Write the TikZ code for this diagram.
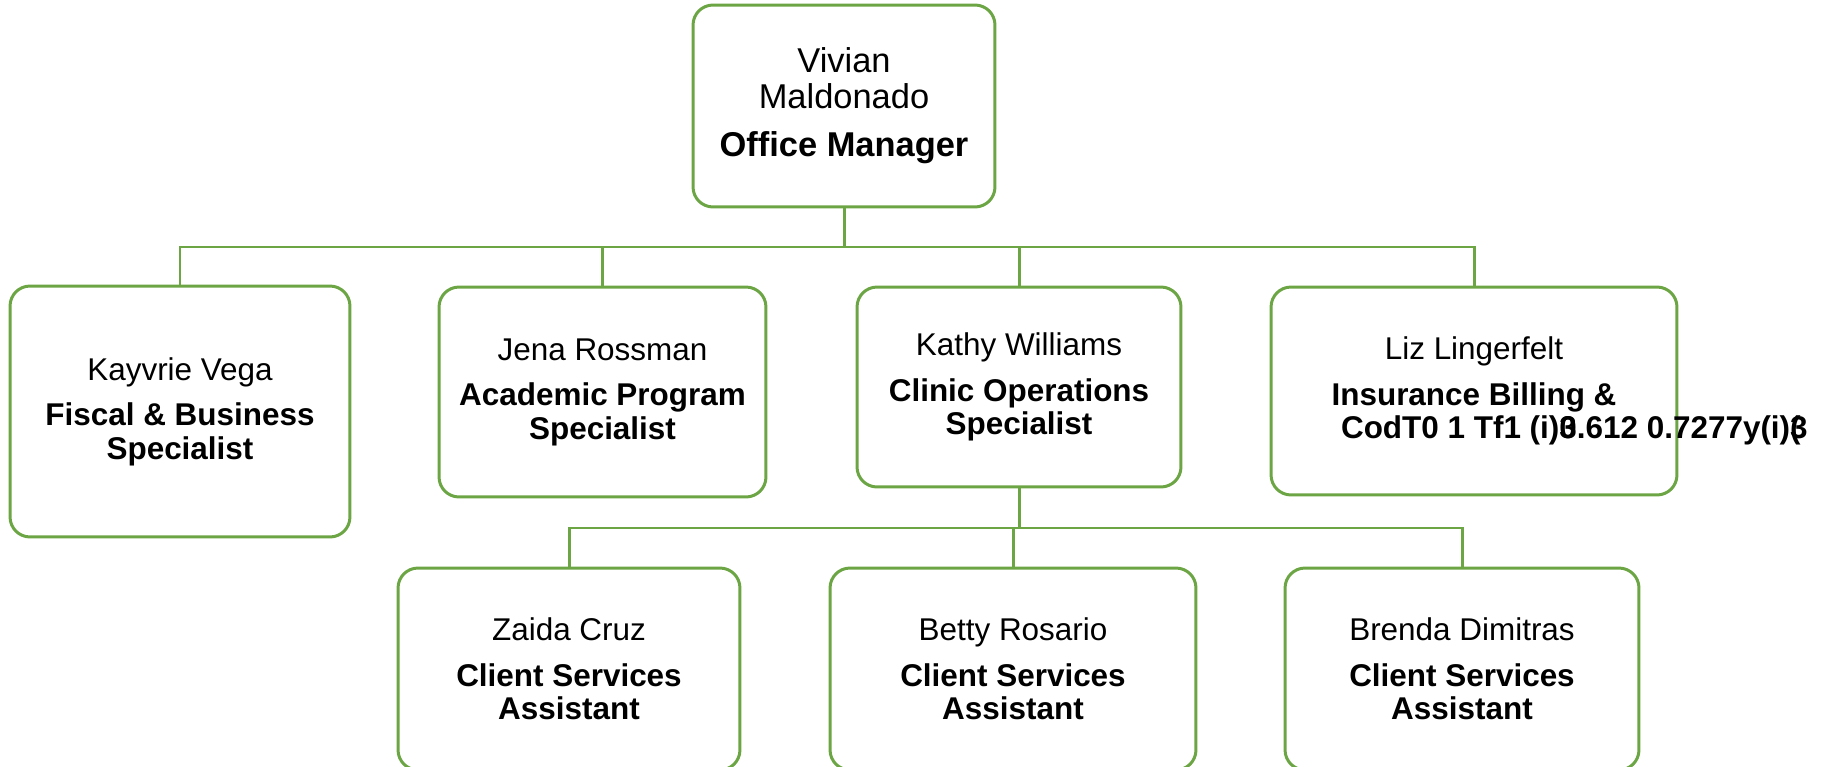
\documentclass[tikz,border=0pt]{standalone}
\usepackage{fontspec}
\setmainfont{Liberation Sans}
\usepackage{tikz}
\definecolor{boxgreen}{RGB}{108,165,68}
\tikzset{
  member/.style={draw=boxgreen, line width=1.7pt, rounded corners=0.4cm, fill=white,
    inner sep=0pt, align=center, font=\fontsize{17.9}{19}\selectfont},
  link/.style={draw=boxgreen, line width=1.7pt}
}

\begin{document}
\begin{tikzpicture}[x=0.02cm, y=-0.02cm]
    \useasboundingbox (0,0) rectangle (1822,767);
    \node[member, font=\fontsize{19.6}{20.5}\selectfont, minimum width=6.04cm, minimum height=4.04cm] (vm) at (844,106) {Vivian\\Maldonado\\[7pt]\textbf{Office Manager}};
    \node[member, minimum width=6.8cm, minimum height=5.02cm] (kv) at (180,411.5) {Kayvrie Vega\\[7pt]\textbf{Fiscal \& Business}\\\textbf{Specialist}};
    \node[member, minimum width=6.54cm, minimum height=4.2cm] (jr) at (602.5,392) {Jena Rossman\\[7pt]\textbf{Academic Program}\\\textbf{Specialist}};
    \node[member, minimum width=6.48cm, minimum height=4cm] (kw) at (1019,387) {Kathy Williams\\[7pt]\textbf{Clinic Operations}\\\textbf{Specialist}};
    \node[member, minimum width=8.12cm, minimum height=4.16cm] (ll) at (1474,391) {Liz Lingerfelt\\[7pt]\textbf{Insurance Billing \&}\\\makebox[0pt][l]{\hspace*{-2.66cm}\textbf{CodT0 1 Tf1 (i)\rlap{3}0.612 0.7277y(i)\rlap{3}(}}\vphantom{Sp}};
    \node[member, minimum width=6.84cm, minimum height=4.04cm] (zc) at (569,669) {Zaida Cruz\\[7pt]\textbf{Client Services}\\\textbf{Assistant}};
    \node[member, minimum width=7.32cm, minimum height=4.04cm] (br) at (1013,669) {Betty Rosario\\[7pt]\textbf{Client Services}\\\textbf{Assistant}};
    \node[member, minimum width=7.08cm, minimum height=4.04cm] (bd) at (1462,669) {Brenda Dimitras\\[7pt]\textbf{Client Services}\\\textbf{Assistant}};
    \coordinate (top bus) at (844,247);
    \coordinate (low bus) at (1019,528);
    \draw[link] (vm.south) -- (top bus);
    \draw[link] (top bus) -| (kv.north) (top bus) -| (jr.north) (top bus) -| (kw.north) (top bus) -| (ll.north);
    \draw[link] (kw.south) -- (low bus);
    \draw[link] (low bus) -| (zc.north) (low bus) -| (br.north) (low bus) -| (bd.north);
\end{tikzpicture}
\end{document}
